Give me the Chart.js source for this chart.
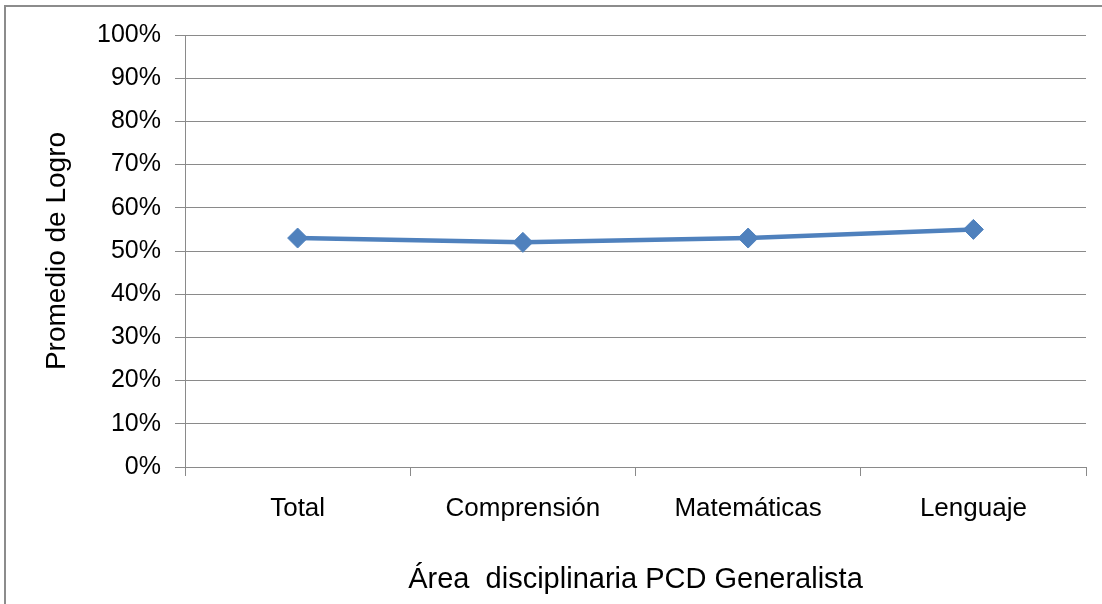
<!DOCTYPE html>
<html>
<head>
<meta charset="utf-8">
<script src="https://cdn.jsdelivr.net/npm/chart.js@4"></script>
<style>
    html, body { margin: 0; padding: 0; background: #fff; overflow: hidden; }
    #frame {
        position: absolute; left: 4px; top: 5px;
        width: 1300px; height: 800px;
        border: 2px solid #8c8c8c;
    }
    #logroChart { position: absolute; left: 0; top: 0; }
</style>
</head>
<body>
<div id="frame"></div>
<canvas id="logroChart" width="1102" height="604"></canvas>
<script>
const areas = ['Total', 'Comprensión', 'Matemáticas', 'Lenguaje'];
const promedioLogro = [53, 52, 53, 55];
const yTicks = [0, 10, 20, 30, 40, 50, 60, 70, 80, 90, 100];

const gridColor = '#8a8a8a';
const fontFamily = '"Liberation Sans", Arial, sans-serif';

const ctx = document.getElementById('logroChart').getContext('2d');
const chart = new Chart(ctx, {
    type: 'line',
    data: {
        labels: areas,
        datasets: [{
            label: 'Promedio de Logro',
            data: promedioLogro,
            borderColor: '#4F81BD',
            backgroundColor: '#4F81BD',
            borderWidth: 4.5,
            pointStyle: 'rectRot',
            pointRadius: 10,
            pointBorderWidth: 1,
            tension: 0
        }]
    },
    options: {
        responsive: false,
        animation: false,
        layout: {
            padding: { left: 0, top: 35, right: 16, bottom: 0 }
        },
        plugins: {
            legend: { display: false },
            tooltip: { enabled: false }
        },
        scales: {
            x: {
                type: 'category',
                offset: true,
                grid: {
                    offset: true,
                    drawOnChartArea: false,
                    drawTicks: true,
                    tickLength: 9,
                    color: gridColor
                },
                border: { color: gridColor },
                ticks: {
                    color: '#000',
                    padding: 17,
                    font: { family: fontFamily, size: 26 }
                },
                title: {
                    display: true,
                    text: 'Área  disciplinaria PCD Generalista',
                    color: '#000',
                    padding: { top: 0, bottom: 7 },
                    font: { family: fontFamily, size: 29 }
                },
                afterFit: scale => { scale.height = 604 - 467; }
            },
            y: {
                min: 0,
                max: 100,
                afterBuildTicks: scale => {
                    scale.ticks = yTicks.map(v => ({ value: v }));
                },
                grid: {
                    color: gridColor,
                    tickLength: 10
                },
                border: { color: gridColor },
                ticks: {
                    color: '#000',
                    padding: 14,
                    font: { family: fontFamily, size: 25 },
                    callback: v => v + '%'
                },
                title: {
                    display: true,
                    text: 'Promedio de Logro',
                    color: '#000',
                    padding: { top: 40, bottom: 0 },
                    font: { family: fontFamily, size: 28 }
                },
                afterFit: scale => { scale.width = 185; }
            }
        }
    }
});
</script>
</body>
</html>
